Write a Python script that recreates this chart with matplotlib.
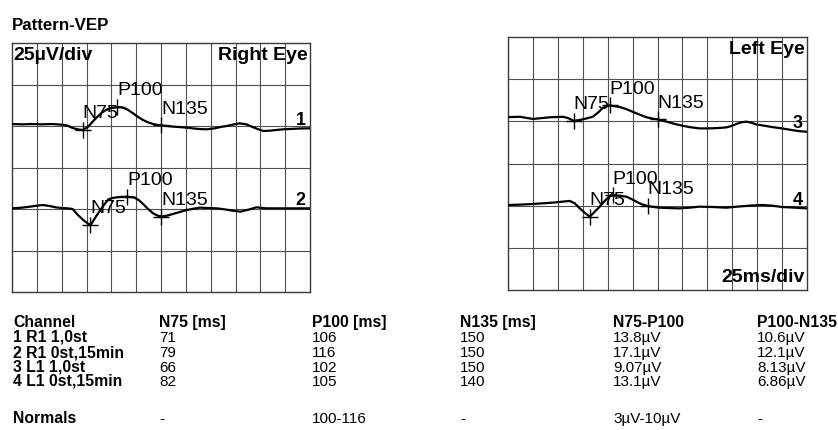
import numpy as np
import matplotlib
matplotlib.use("Agg")
import matplotlib.pyplot as plt

plt.rcParams['font.family'] = ['Liberation Sans', 'DejaVu Sans']

W, H = 838, 430

# traces: time [ms], amplitude [uV] relative to the channel's grid line
t1 = [0, 10, 20, 30, 40, 50, 56, 61, 66, 71, 76, 80, 85, 90, 95, 100, 106, 111, 116, 122, 127, 132,
      137, 142, 146, 150, 155, 163, 172, 180, 188, 196, 204, 210, 216, 222, 229, 236, 243, 248, 253,
      260, 266, 273, 280, 290, 300]
v1 = [1.2, 1.0, 1.2, 1.0, 1.2, 0.8, 0.2, -1.2, -2.0, -2.4, -0.8, 1.8, 5.0, 7.8, 9.8, 10.8, 11.4, 11.2,
      10.0, 7.6, 5.4, 3.6, 2.2, 1.2, 0.7, 0.4, 0.0, -0.4, -0.8, -1.3, -1.8, -2.0, -1.4, -0.6, 0.0, 0.8,
      1.6, 1.0, -0.8, -2.0, -3.0, -2.8, -2.4, -2.0, -1.8, -1.5, -1.4]

t2 = [0, 10, 18, 25, 31, 38, 44, 50, 56, 61, 66, 72, 79, 84, 89, 93, 97, 101, 105, 110, 116, 123, 128,
      132, 137, 142, 146, 150, 156, 162, 169, 176, 183, 189, 197, 206, 214, 222, 230, 238, 246, 256,
      270, 285, 300]
v2 = [0.4, 0.8, 1.4, 2.0, 2.4, 1.8, 1.0, 0.6, 0.4, 0.0, -3.4, -6.8, -9.8, -5.0, -0.6, 2.8, 5.8, 6.6,
      7.0, 7.3, 7.4, 7.0, 5.2, 3.0, 0.0, -2.6, -3.8, -4.6, -4.0, -3.0, -1.8, -0.6, 0.2, 0.8, 0.6, 0.4,
      -0.2, -1.0, -1.6, -0.4, 1.0, 0.4, 0.4, 0.4, 0.4]

t3 = [0, 12, 25, 35, 42, 50, 55, 60, 66, 72, 78, 85, 90, 95, 99, 102, 107, 112, 118, 125, 132, 139,
      145, 150, 158, 165, 172, 182, 192, 200, 210, 219, 224, 229, 234, 239, 244, 249, 257, 265, 275,
      285, 292, 300]
v3 = [2.5, 2.7, 1.4, 2.0, 2.4, 2.6, 2.7, 2.0, 0.3, 0.8, 1.6, 2.7, 5.0, 7.9, 9.0, 9.4, 9.0, 8.5, 7.4,
      5.7, 4.0, 2.4, 1.6, 1.2, 0.0, -1.2, -2.2, -3.4, -4.2, -4.2, -4.0, -3.6, -2.8, -1.6, -0.6, -0.2,
      -0.8, -1.8, -2.6, -3.4, -4.2, -5.2, -5.8, -6.2]

t4 = [0, 12, 25, 35, 45, 55, 62, 67, 72, 77, 82, 87, 92, 97, 102, 105, 110, 115, 119, 125, 132, 136,
      140, 146, 152, 160, 172, 182, 192, 205, 219, 230, 242, 255, 265, 275, 288, 300]
v4 = [0.4, 0.6, 1.0, 1.4, 1.8, 2.4, 2.8, 1.4, -1.6, -4.2, -6.5, -3.6, -0.6, 2.8, 5.7, 6.1, 6.0, 5.6,
      5.3, 3.6, 1.4, 0.5, -0.2, -0.8, -1.2, -1.4, -1.6, -1.2, -0.6, -0.8, -1.2, -0.6, 0.0, 0.4, 0.0,
      -0.8, -1.2, -1.6]

# table values
channels = ["1 R1 1,0st", "2 R1 0st,15min", "3 L1 1,0st", "4 L1 0st,15min"]
n75 = [71, 79, 66, 82]
p100 = [106, 116, 102, 105]
n135 = [150, 150, 150, 140]
amp_n75_p100 = ["13.8µV", "17.1µV", "9.07µV", "13.1µV"]
amp_p100_n135 = ["10.6µV", "12.1µV", "8.13µV", "6.86µV"]
headers = ["Channel", "N75 [ms]", "P100 [ms]", "N135 [ms]", "N75-P100", "P100-N135"]
normals = ["Normals", "-", "100-116", "-", "3µV-10µV", "-"]

traces = [(t1, v1), (t2, v2), (t3, v3), (t4, v4)]
base_uv = [100, 50, 100, 50]   # channel grid line, 25 uV/div

fig = plt.figure(figsize=(W / 100, H / 100), dpi=100)
fig.patch.set_facecolor('white')


def px_axes(x0, y0, x1, y1):
    return fig.add_axes([x0 / W, 1 - y1 / H, (x1 - x0) / W, (y1 - y0) / H])


ax_r = px_axes(12, 43, 310, 292)
ax_l = px_axes(508, 37, 807, 290)

for ax in (ax_r, ax_l):
    ax.set_xlim(0, 300)
    ax.set_ylim(0, 150)
    for x in range(25, 300, 25):
        ax.axvline(x, color='#505050', lw=0.8, zorder=1)
    for y in range(25, 150, 25):
        ax.axhline(y, color='#505050', lw=0.8, zorder=1)
    ax.set_xticks([])
    ax.set_yticks([])
    for s in ax.spines.values():
        s.set_color('#3a3a3a')
        s.set_linewidth(1.0)

lab_kw = dict(fontsize=14, ha='left', va='baseline', textcoords='offset points', zorder=4)
for i, (t, v) in enumerate(traces):
    ax = ax_r if i < 2 else ax_l
    y = np.array(v) + base_uv[i]
    ax.plot(t, y, color='black', lw=1.6, zorder=3)
    for name, lat in (("N75", n75[i]), ("P100", p100[i]), ("N135", n135[i])):
        yy = np.interp(lat, t, y)
        ax.plot(lat, yy, marker='+', ms=11, mew=1.0, color='black', zorder=3)
        ax.annotate(name, (lat, yy), xytext=(0, 8.5), **lab_kw)
    ax.annotate(str(i + 1), (300, y[-1]), xytext=(-3, 2.5), textcoords='offset points',
                ha='right', va='baseline', fontsize=13, fontweight='bold')

big = dict(fontsize=14, fontweight='bold')
ax_r.text(0.004, 0.985, "25µV/div", transform=ax_r.transAxes, ha='left', va='top', **big)
ax_r.text(0.994, 0.985, "Right Eye", transform=ax_r.transAxes, ha='right', va='top', **big)
ax_l.text(0.994, 0.985, "Left Eye", transform=ax_l.transAxes, ha='right', va='top', **big)
ax_l.text(0.994, 0.015, "25ms/div", transform=ax_l.transAxes, ha='right', va='bottom', **big)

fig.text(12 / W, 1 - 30 / H, "Pattern-VEP", ha='left', va='baseline', fontsize=12.2,
         fontweight='bold')

# results table
col_x = [13, 159, 312, 460, 613, 757]
row_y = [327, 342, 357, 372, 386]
for j, h in enumerate(headers):
    fig.text(col_x[j] / W, 1 - row_y[0] / H, h, ha='left', va='baseline', fontsize=11.3,
             fontweight='bold')
for r in range(4):
    vals = [channels[r], str(n75[r]), str(p100[r]), str(n135[r]), amp_n75_p100[r], amp_p100_n135[r]]
    for j, val in enumerate(vals):
        fig.text(col_x[j] / W, 1 - row_y[r + 1] / H, val, ha='left', va='baseline',
                 fontsize=11.3 if j == 0 else 11, fontweight='bold' if j == 0 else 'normal')
for j, val in enumerate(normals):
    fig.text(col_x[j] / W, 1 - 423 / H, val, ha='left', va='baseline',
             fontsize=11.3 if j == 0 else 11, fontweight='bold' if j == 0 else 'normal')

fig.savefig("out.png", dpi=100)
